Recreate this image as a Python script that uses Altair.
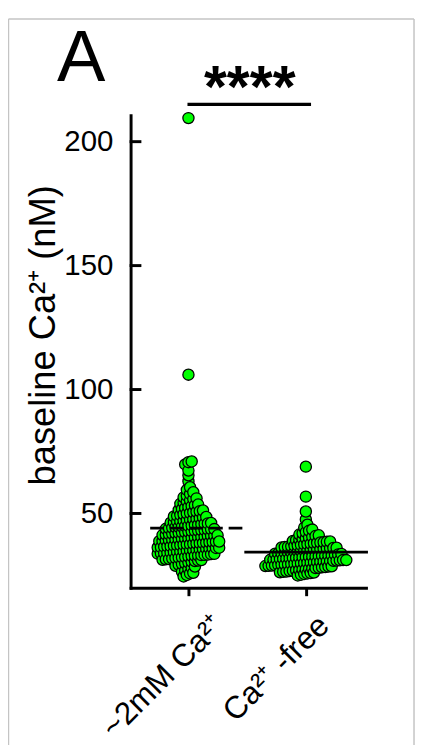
import altair as alt
import pandas as pd

# ---------------- data ----------------
groups = ["~2mM Ca²⁺", "Ca²⁺ -free"]

ctrl_values = [
    24.6, 25.2, 25.8, 26.1,
    26.5, 27.0, 27.6, 28.1, 28.6,
    28.9, 29.3, 29.6, 29.9, 30.2, 30.5, 30.8, 31.0, 31.2,
    31.3, 31.5, 31.6, 31.8, 32.0, 32.1, 32.3, 32.4, 32.6, 32.8, 32.9, 33.0, 33.2, 33.3, 33.4, 33.6, 33.7,
    33.8, 33.9, 34.0, 34.2, 34.3, 34.4, 34.6, 34.7, 34.8, 35.0, 35.1, 35.2, 35.4, 35.5, 35.6, 35.8, 35.9, 36.0, 36.1, 36.2,
    36.3, 36.4, 36.6, 36.7, 36.8, 37.0, 37.1, 37.2, 37.4, 37.5, 37.6, 37.8, 37.9, 38.0, 38.1, 38.2, 38.4, 38.5, 38.6, 38.7,
    38.8, 38.9, 39.1, 39.2, 39.4, 39.5, 39.6, 39.8, 39.9, 40.0, 40.2, 40.3, 40.5, 40.6, 40.7, 40.9, 41.0, 41.1, 41.2,
    41.3, 41.5, 41.6, 41.8, 42.0, 42.1, 42.3, 42.4, 42.6, 42.8, 42.9, 43.0, 43.2, 43.3, 43.5, 43.6, 43.7,
    43.8, 44.0, 44.2, 44.4, 44.5, 44.7, 44.9, 45.0, 45.2, 45.4, 45.5, 45.7, 45.9, 46.0, 46.2,
    46.3, 46.5, 46.7, 46.9, 47.1, 47.3, 47.5, 47.7, 47.9, 48.1, 48.4, 48.6,
    48.8, 49.1, 49.4, 49.7, 50.0, 50.2, 50.5, 50.7, 50.9, 51.2,
    51.4, 51.8, 52.2, 52.6, 53.0, 53.3, 53.6,
    53.9, 54.4, 54.9, 55.3, 55.8, 56.1,
    56.5, 57.2, 57.9, 58.6,
    59.5, 60.6,
    63.0, 65.4, 67.3, 69.8, 70.7, 71.0,
    106.0, 209.5,
]

free_values = [
    25.0, 25.3, 25.6, 25.8, 26.0, 26.2,
    26.3, 26.5, 26.6, 26.8, 26.9, 27.1, 27.2, 27.4, 27.5, 27.7, 27.8, 28.0, 28.1, 28.3, 28.4, 28.6, 28.7,
    28.8, 28.9, 29.0, 29.1, 29.2, 29.3, 29.4, 29.5, 29.6, 29.7, 29.8, 29.9, 30.0, 30.1, 30.2, 30.3, 30.4,
    30.5, 30.6, 30.7, 30.8, 30.9, 31.0, 31.1, 31.2, 31.2,
    31.3, 31.4, 31.5, 31.6, 31.7, 31.8, 31.9, 32.0, 32.1, 32.2, 32.3, 32.4, 32.5, 32.6, 32.7, 32.8, 32.9,
    33.0, 33.1, 33.2, 33.4, 33.5, 33.7,
    33.8, 33.9, 34.0, 34.2, 34.3, 34.4, 34.6, 34.7, 34.8, 35.0, 35.1, 35.2, 35.4, 35.5, 35.6, 35.8, 35.9,
    36.0, 36.1, 36.2,
    36.3, 36.5, 36.6, 36.8, 37.0, 37.1, 37.3, 37.5, 37.6, 37.8, 38.0, 38.1, 38.3, 38.4, 38.6, 38.7,
    38.9, 39.2, 39.5, 39.8, 40.0, 40.3, 40.6, 40.9, 41.2,
    41.5, 42.0, 42.5, 43.0, 43.5,
    44.3, 45.5,
    47.6, 50.8, 56.8, 68.9,
]

mean_values = [44.1, 34.4]
y_ticks = [50, 100, 150, 200]
y_title = "baseline Ca²⁺ (nM)"
sig_label = "****"
panel_label = "A"

# ---------------- layout / style constants ----------------
FONT = "Liberation Sans"
W, H = 240, 482
GROUP_PX = 119.7                      # pixel distance between the two groups
X_DOMAIN = [-59 / GROUP_PX, (W - 59) / GROUP_PX]
STEP = 3.3 / GROUP_PX                 # horizontal spacing of dots within a row
ROW_W = 2.5                           # nM per dot row
MEAN_EXT = [(-0.326, 0.509), (-0.524, 0.529)]

df = pd.DataFrame({
    "gi": [0] * len(ctrl_values) + [1] * len(free_values),
    "value": ctrl_values + free_values,
})

xscale = alt.Scale(domain=X_DOMAIN, nice=False, zero=False)
yscale = alt.Scale(domain=[20, 210.7], nice=False, zero=False)

label_expr = f"datum.value == 0 ? '{groups[0]}' : '{groups[1]}'"
xaxis = alt.Axis(values=[0, 1], labelExpr=label_expr, title=None, grid=False,
                 ticks=True, tickSize=8, tickWidth=3, tickColor="black",
                 domainWidth=3, domainColor="black", labelAngle=-45,
                 labelAlign="right", labelBaseline="alphabetic", labelFontSize=32,
                 labelPadding=32,
                 labelOffset={"condition": {"test": "datum.value == 0", "value": 38}, "value": 25},
                 labelColor="black", labelFont=FONT,
                 labelOverlap=False, labelFlush=False)
yaxis = alt.Axis(values=y_ticks, title=y_title, grid=False, ticks=False,
                 domainWidth=3, domainColor="black", labelFontSize=30,
                 labelPadding=18, labelColor="black", labelFont=FONT,
                 titleFontSize=37, titleFontWeight="normal", titleColor="black",
                 titleFont=FONT, titlePadding=2, titleY=224, labelFlush=False)

points = alt.Chart(df).transform_calculate(
    row=f"floor((datum.value - 23.75) / {ROW_W})"
).transform_window(
    rank="row_number()", groupby=["gi", "row"],
    sort=[alt.SortField("value", order="ascending")]
).transform_joinaggregate(
    n="count()", groupby=["gi", "row"]
).transform_calculate(
    xpos=f"datum.gi + (datum.rank - (datum.n + 1) / 2) * {STEP}"
).mark_circle(size=130, fill="#00FF00", stroke="black", strokeWidth=1.3,
              opacity=1, fillOpacity=1).encode(
    x=alt.X("xpos:Q", scale=xscale, axis=xaxis),
    y=alt.Y("value:Q", scale=yscale, axis=yaxis),
    order=alt.Order("xpos:Q", sort="ascending"),
)

mean_df = pd.DataFrame({
    "gi": [0, 1],
    "mean": mean_values,
    "x_lo": [g + MEAN_EXT[g][0] for g in (0, 1)],
    "x_hi": [g + MEAN_EXT[g][1] for g in (0, 1)],
})
mean_dashed = alt.Chart(mean_df.iloc[[0]]).mark_rule(
    color="black", strokeWidth=3, strokeDash=[14, 6]).encode(
    x=alt.X("x_lo:Q", scale=xscale, axis=xaxis), x2="x_hi:Q",
    y=alt.Y("mean:Q", scale=yscale, axis=yaxis))
mean_solid = alt.Chart(mean_df.iloc[[1]]).mark_rule(
    color="black", strokeWidth=3).encode(
    x=alt.X("x_lo:Q", scale=xscale, axis=xaxis), x2="x_hi:Q",
    y=alt.Y("mean:Q", scale=yscale, axis=yaxis))

ytick_rules = alt.Chart(pd.DataFrame({"t": y_ticks})).mark_rule(
    color="black", strokeWidth=3).encode(
    y=alt.Y("t:Q", scale=yscale, axis=yaxis), x=alt.value(-1), x2=alt.value(11))

one = pd.DataFrame({"k": [0]})
sig_line = alt.Chart(one).mark_rule(color="black", strokeWidth=3.3).encode(
    x=alt.value(58), x2=alt.value(184), y=alt.value(-11))
sig_text = alt.Chart(one).mark_text(text=sig_label, fontSize=60, fontWeight="bold",
                                    font=FONT, align="center", baseline="alphabetic",
                                    color="black").encode(
    x=alt.value(121.5), y=alt.value(-8))
panel_text = alt.Chart(one).mark_text(text=panel_label, fontSize=74, font=FONT,
                                      align="left", baseline="alphabetic",
                                      color="black").encode(
    x=alt.value(-75), y=alt.value(-35))

border_color = "#c4c4c4"
b_left = alt.Chart(one).mark_rule(color=border_color, strokeWidth=1.5).encode(
    x=alt.value(-124.5), y=alt.value(-98), y2=alt.value(700))
b_top = alt.Chart(one).mark_rule(color=border_color, strokeWidth=1.5).encode(
    x=alt.value(-124.5), x2=alt.value(289), y=alt.value(-98))
b_right = alt.Chart(one).mark_rule(color=border_color, strokeWidth=1.5).encode(
    x=alt.value(289), y=alt.value(-98), y2=alt.value(700))

chart = alt.layer(
    b_left, b_top, b_right, points, mean_dashed, mean_solid, ytick_rules,
    sig_line, sig_text, panel_text,
).properties(
    width=W, height=H,
    autosize=alt.AutoSizeParams(type="none"),
    padding={"left": 125, "top": 102, "right": 50, "bottom": 153},
    background="white",
).configure(font=FONT).configure_view(strokeWidth=0).configure_axis(domainCap="square")

chart.save("out.html", embed_options={"renderer": "svg", "actions": False})
